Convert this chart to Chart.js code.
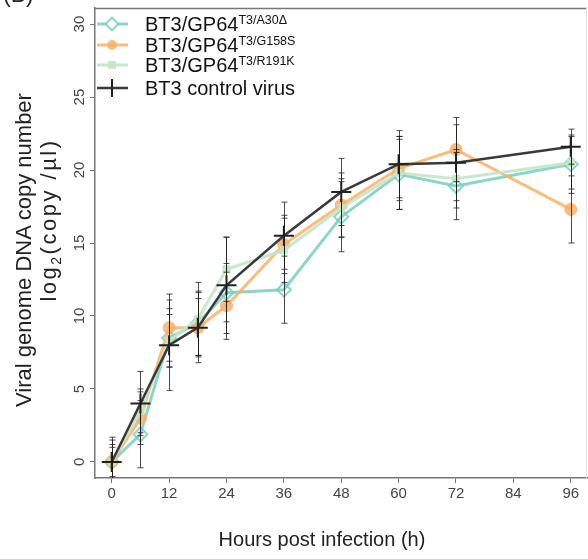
<!DOCTYPE html>
<html>
<head>
<meta charset="utf-8">
<script src="https://cdn.jsdelivr.net/npm/chart.js@4.4.1/dist/chart.umd.min.js"></script>
<style>
  html, body { margin: 0; padding: 0; background: #fff; }
  #wrap { position: relative; width: 588px; height: 559px; overflow: hidden; font-family: "Liberation Sans", Arial, sans-serif; }
  /* canvas a bit larger than the page: the axes reserve room for edge tick labels */
  #chart { position: absolute; left: 0; top: -4px; }
  .ytitle { position: absolute; width: 420px; transform: translate(-50%, -50%) rotate(-90deg);
            text-align: center; font-size: 22px; line-height: 26px; color: #222; white-space: nowrap; }
  .ytitle sub { font-size: 14px; line-height: 0; }
  #yt1 { left: 24px; top: 250px; }
  #yt2 { left: 49px; top: 220px; letter-spacing: 2.5px; }
  .xtitle { position: absolute; left: 0; width: 644px; top: 528px; text-align: center; font-size: 20px; color: #222; }
  .panel { position: absolute; left: 3px; top: -17px; font-size: 23px; line-height: 23px; color: #222; }
  #legend { position: absolute; left: 96px; top: 14px; }
  .row { position: relative; height: 20.5px; font-size: 20px; line-height: 21px; color: #111; white-space: nowrap; }
  .row svg { position: absolute; left: 0; top: 0; }
  .row span.t { position: absolute; left: 49px; top: 0; }
  .row sup { font-size: 12.5px; vertical-align: 7px; line-height: 0; }
</style>
</head>
<body>
<div id="wrap">
  <canvas id="chart" width="599" height="563"></canvas>
  <div class="panel">(B)</div>
  <div class="ytitle" id="yt1">Viral genome DNA copy number</div>
  <div class="ytitle" id="yt2">log<sub>2</sub>(copy /µl)</div>
  <div class="xtitle">Hours post infection (h)</div>
  <div id="legend"></div>
</div>
<script>
// hours post infection
let hours = [0, 6, 12, 18, 24, 36, 48, 60, 72, 96];
let xTicks = [0, 12, 24, 36, 48, 60, 72, 84, 96];
let yTicks = [0, 5, 10, 15, 20, 25, 30];

// log2 copy number
let a30 = [0, 1.9, 8.5, 9.5, 11.6, 11.8, 16.8, 19.7, 18.9, 20.4];
let g158 = [0, 3.0, 9.2, 9.2, 10.7, 14.9, 17.6, 20.1, 21.4, 17.3];
let r191 = [0, 3.5, 8.3, 9.8, 13.2, 14.5, 17.4, 19.8, 19.4, 20.5];
let ctrl = [0, 4.0, 8.0, 9.2, 12.1, 15.5, 18.5, 20.4, 20.5, 21.6];

// error bar half widths
let a30Err = [1.5, 2.3, 2.0, 2.2, 2.0, 2.3, 2.4, 2.4, 2.3, 2.0];
let g158Err = [1.2, 1.8, 2.3, 2.0, 2.3, 2.0, 2.2, 2.2, 2.2, 2.3];
let r191Err = [1.0, 1.5, 1.8, 2.5, 2.2, 2.2, 2.0, 2.5, 2.0, 1.8];
let ctrlErr = [1.7, 2.2, 3.1, 2.4, 3.3, 2.3, 2.3, 2.3, 2.6, 1.2];

let labels = ["BT3/GP64", "BT3/GP64", "BT3/GP64", "BT3 control virus"];
let supers = ["T3/A30Δ", "T3/G158S", "T3/R191K", ""];

let tealColor = "rgba(122,206,192,0.85)";
let orangeColor = "rgba(248,178,104,0.85)";
let greenColor = "rgba(196,230,200,0.9)";
let darkColor = "#3a3a3a";

function pts(ys) {
	return hours.map((h, i) => ({x: h, y: ys[i]}));
}

let errors = [ctrlErr, a30Err, g158Err, r191Err];

let errorBars = {
	id: "errorBars",
	afterDatasetsDraw(chart) {
		let ctx = chart.ctx;
		let xs = chart.scales.x, ys = chart.scales.y;
		let area = chart.chartArea;
		ctx.save();
		ctx.beginPath();
		ctx.rect(area.left, area.top, area.right - area.left, area.bottom - area.top);
		ctx.clip();
		ctx.strokeStyle = "rgba(30,30,30,0.8)";
		ctx.lineWidth = 1;
		chart.data.datasets.forEach((ds, d) => {
			ds.data.forEach((p, i) => {
				let px = Math.round(xs.getPixelForValue(p.x)) + 0.5;
				let top = ys.getPixelForValue(p.y + errors[d][i]);
				let bot = ys.getPixelForValue(p.y - errors[d][i]);
				ctx.beginPath();
				ctx.moveTo(px, top); ctx.lineTo(px, bot);
				ctx.moveTo(px - 3, top); ctx.lineTo(px + 3, top);
				ctx.moveTo(px - 3, bot); ctx.lineTo(px + 3, bot);
				ctx.stroke();
			});
		});
		ctx.restore();
	}
};

let frame = {
	id: "frame",
	afterDraw(chart) {
		let ctx = chart.ctx;
		let a = chart.chartArea;
		ctx.save();
		ctx.strokeStyle = "#777";
		ctx.lineWidth = 1.5;
		ctx.beginPath();
		ctx.moveTo(a.left, a.top + 0.5); ctx.lineTo(a.right, a.top + 0.5);
		ctx.stroke();
		ctx.strokeStyle = "#e4e4e4";
		ctx.lineWidth = 1;
		ctx.beginPath();
		ctx.moveTo(a.right - 0.5, a.top); ctx.lineTo(a.right - 0.5, a.bottom);
		ctx.stroke();
		ctx.restore();
	}
};

new Chart(document.getElementById("chart"), {
	type: "line",
	data: {
		datasets: [
			{label: labels[3], data: pts(ctrl), order: 0, borderColor: darkColor, borderWidth: 2.5,
				pointStyle: "cross", pointRadius: 10, pointBorderWidth: 2, pointBorderColor: "#222"},
			{label: labels[0], data: pts(a30), order: 3, borderColor: tealColor, borderWidth: 3,
				pointStyle: "rectRot", pointRadius: 7, pointBorderWidth: 2, pointBorderColor: tealColor,
				pointBackgroundColor: "rgba(255,255,255,0)"},
			{label: labels[1], data: pts(g158), order: 2, borderColor: orangeColor, borderWidth: 3,
				pointStyle: "circle", pointRadius: 6, pointBorderWidth: 1, pointBorderColor: orangeColor,
				pointBackgroundColor: orangeColor},
			{label: labels[2], data: pts(r191), order: 1, borderColor: greenColor, borderWidth: 3,
				pointStyle: "rect", pointRadius: 5, pointBorderWidth: 1, pointBorderColor: greenColor,
				pointBackgroundColor: greenColor}
		]
	},
	options: {
		responsive: false,
		animation: false,
		layout: {padding: {top: 7, right: 1, left: 0, bottom: 0}},
		plugins: {legend: {display: false}, tooltip: {enabled: false}},
		elements: {line: {tension: 0}},
		scales: {
			x: {
				type: "linear", min: -3.5, max: 99.4,
				afterBuildTicks: s => { s.ticks = xTicks.map(v => ({value: v})); },
				afterFit: s => { s.height = 81; s.paddingLeft = 0; s.paddingRight = 0; },
				grid: {drawOnChartArea: false, drawTicks: true, tickLength: 5, color: "#777"},
				border: {display: true, color: "#777", width: 1.5},
				ticks: {color: "#444", font: {family: "Liberation Sans", size: 15}, padding: 2, maxRotation: 0}
			},
			y: {
				type: "linear", min: -1.1, max: 31.1,
				afterBuildTicks: s => { s.ticks = yTicks.map(v => ({value: v})); },
				afterFit: s => { s.width = 95; s.paddingTop = 0; s.paddingBottom = 0; },
				grid: {drawOnChartArea: false, drawTicks: true, tickLength: 5, color: "#777"},
				border: {display: true, color: "#777", width: 1.5},
				ticks: {color: "#444", font: {family: "Liberation Sans", size: 15}, padding: 2,
					minRotation: 90, maxRotation: 90, crossAlign: "center"}
			}
		}
	},
	plugins: [errorBars, frame]
});

// legend with superscripts
let legendSym = [
	'<line x1="1" y1="10" x2="32" y2="10" stroke="' + tealColor + '" stroke-width="3"/>' +
		'<rect x="11.5" y="5.5" width="9" height="9" transform="rotate(45 16 10)" fill="#fff" stroke="' + tealColor + '" stroke-width="2"/>',
	'<line x1="1" y1="10" x2="32" y2="10" stroke="' + orangeColor + '" stroke-width="3"/>' +
		'<circle cx="16" cy="10" r="5" fill="' + orangeColor + '"/>',
	'<line x1="1" y1="10" x2="32" y2="10" stroke="' + greenColor + '" stroke-width="3"/>' +
		'<rect x="12" y="6" width="8" height="8" fill="' + greenColor + '"/>',
	'<line x1="1" y1="10" x2="32" y2="10" stroke="' + darkColor + '" stroke-width="2.5"/>' +
		'<line x1="16" y1="1" x2="16" y2="19" stroke="#222" stroke-width="2"/>'
];
let legend = document.getElementById("legend");
labels.forEach((l, i) => {
	let row = document.createElement("div");
	row.className = "row";
	if (i == 3) row.style.marginTop = "2px";
	row.innerHTML = '<svg width="34" height="20">' + legendSym[i] + '</svg><span class="t">' + l +
		(supers[i] ? '<sup>' + supers[i] + '</sup>' : '') + '</span>';
	legend.appendChild(row);
});
</script>
</body>
</html>
